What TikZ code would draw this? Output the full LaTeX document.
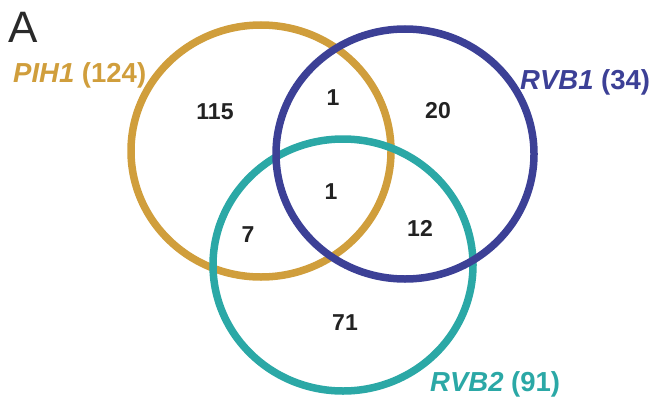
\documentclass[tikz,border=0pt]{standalone}
\usepackage{fontspec}
\setmainfont{Liberation Sans}
\usetikzlibrary{shapes.geometric}
\definecolor{goldc}{HTML}{D09E3C}
\definecolor{bluec}{HTML}{3C4096}
\definecolor{tealc}{HTML}{2BA8A6}
\definecolor{numc}{HTML}{222222}
\definecolor{letc}{HTML}{2A2A2A}
\tikzset{
  setring/.style={ellipse, draw, line width=7.5pt, inner sep=0pt,
    minimum width=260pt, minimum height=252pt},
  count/.style={inner sep=0pt, text=numc, font=\fontsize{23}{23}\selectfont\bfseries},
  setlabel/.style={anchor=base west, inner sep=0pt, font=\fontsize{27.5}{27.5}\selectfont\bfseries},
}
\begin{document}
\begin{tikzpicture}[x=1pt,y=-1pt]
\useasboundingbox (0,0) rectangle (652,396);
\node[setring, draw=goldc] (pih) at (261,151) {};
\node[setring, draw=tealc] (rvbtwo) at (343,265) {};
\node[setring, draw=bluec, minimum width=258pt, minimum height=250pt] (rvbone) at (405,154) {};
\node[anchor=base west, inner sep=0pt, text=letc, font=\fontsize{44}{44}\selectfont] (panel) at (8,43) {A};
\node[setlabel, text=goldc] (lpih) at (13,82) {\textit{PIH1} (124)};
\node[setlabel, text=bluec] (lone) at (520,89) {\textit{RVB1} (34)};
\node[setlabel, text=tealc] (ltwo) at (430,391) {\textit{RVB2} (91)};
\node[count] (n115) at (215,112) {115};
\node[count] (n1a) at (333,98) {1};
\node[count] (n20) at (438,111) {20};
\node[count] (n1b) at (331,192) {1};
\node[count] (n7) at (248,235) {7};
\node[count] (n12) at (420,228) {12};
\node[count] (n71) at (345,323) {71};
\end{tikzpicture}
\end{document}
